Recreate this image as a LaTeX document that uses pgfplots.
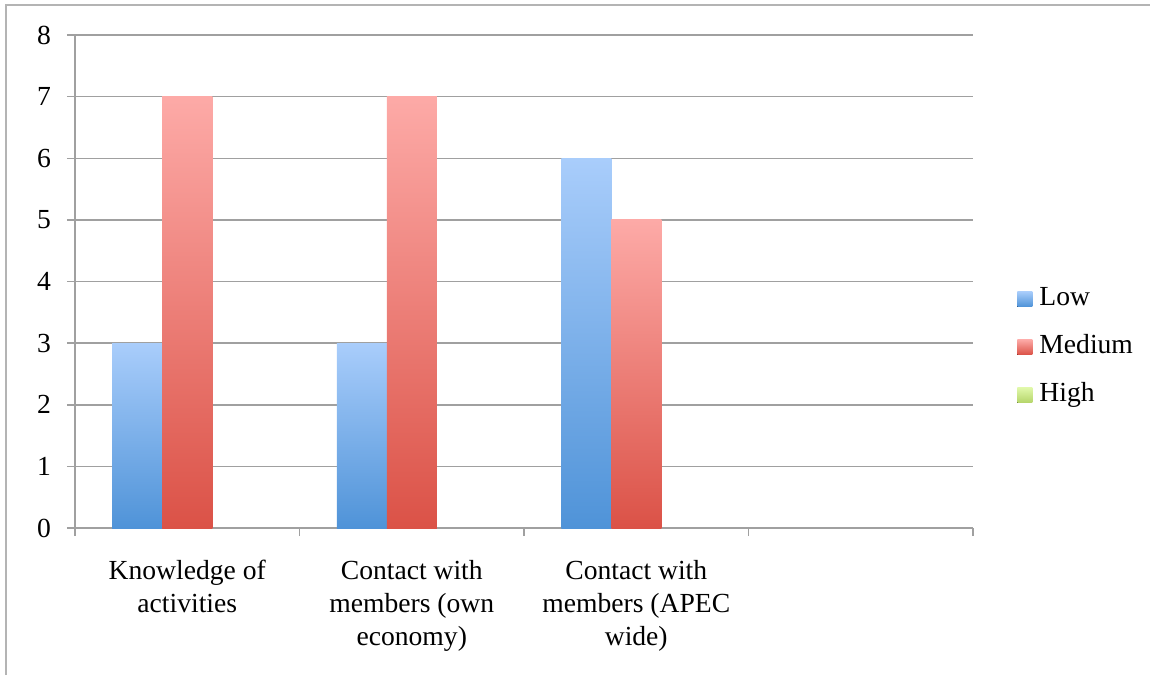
\documentclass[border=0pt]{standalone}
\usepackage{fontspec}
\setmainfont{Liberation Serif}
\usepackage{pgfplots}
\pgfplotsset{compat=1.18}
\definecolor{gridgray}{HTML}{A0A0A0}
\definecolor{framegray}{HTML}{B4B4B4}
\definecolor{lowtop}{HTML}{A9CDFB}
\definecolor{lowbot}{HTML}{4F93D8}
\definecolor{medtop}{HTML}{FDAAA7}
\definecolor{medbot}{HTML}{DB5247}
\definecolor{hightop}{HTML}{E0F8AA}
\definecolor{highbot}{HTML}{B5D56A}
\newcommand{\lbl}{\fontsize{13.8}{16.5}\selectfont}
\begin{document}
\begin{tikzpicture}
\useasboundingbox (-37.5pt,-73.5pt) rectangle (537.5pt,264pt);
\draw[framegray, line width=0.75pt] (-34.5pt,-73.5pt) -- (-34.5pt,261.5pt) -- (537.5pt,261.5pt);
\begin{axis}[
  at={(0pt,0pt)}, anchor=south west,
  scale only axis, width=449pt, height=246.5pt,
  xmin=-0.5, xmax=3.5, ymin=0, ymax=8,
  axis x line*=bottom, axis y line*=left,
  axis line style={gridgray, line width=0.75pt},
  ytick={0,...,8},
  ymajorgrids, grid style={gridgray, line width=0.75pt},
  xtick={0,1,2},
  xticklabels={Knowledge of\\activities, Contact with\\members (own\\economy), Contact with\\members (APEC\\wide)},
  major x tick style={draw=none},
  minor xtick={-0.5,0.5,1.5,2.5,3.5},
  tick align=outside,
  major tick length=4pt, minor tick length=4pt,
  tick style={gridgray, line width=0.75pt},
  x tick label style={align=center, font=\lbl, yshift=-8.5pt},
  y tick label style={font=\lbl, xshift=-4.5pt},
  /pgf/number format/assume math mode=true,
  legend style={at={(1.049,0.367)}, anchor=west, draw=none, fill=none, font=\lbl,
    inner sep=0pt, row sep=9pt, nodes={text height=9pt, text depth=3pt, inner sep=1.5pt},
    /tikz/every odd column/.append style={column sep=2pt}},
  legend cell align=left,
  legend image code/.code={\fill[#1] (0pt,-3.75pt) rectangle (7.5pt,3.75pt);},
]
\addplot[ybar, bar width=25pt, bar shift=-25pt, draw=none, top color=lowtop, bottom color=lowbot] coordinates {(0,3)};
\addlegendentry{Low}
\addplot[ybar, bar width=25pt, bar shift=0pt, draw=none, top color=medtop, bottom color=medbot] coordinates {(0,7)};
\addlegendentry{Medium}
\addlegendimage{draw=none, top color=hightop, bottom color=highbot}
\addlegendentry{High}
\addplot[ybar, forget plot, bar width=25pt, bar shift=-25pt, draw=none, top color=lowtop, bottom color=lowbot] coordinates {(1,3)};
\addplot[ybar, forget plot, bar width=25pt, bar shift=-25pt, draw=none, top color=lowtop, bottom color=lowbot] coordinates {(2,6)};
\addplot[ybar, forget plot, bar width=25pt, bar shift=0pt, draw=none, top color=medtop, bottom color=medbot] coordinates {(1,7)};
\addplot[ybar, forget plot, bar width=25pt, bar shift=0pt, draw=none, top color=medtop, bottom color=medbot] coordinates {(2,5)};
\end{axis}
\end{tikzpicture}
\end{document}
